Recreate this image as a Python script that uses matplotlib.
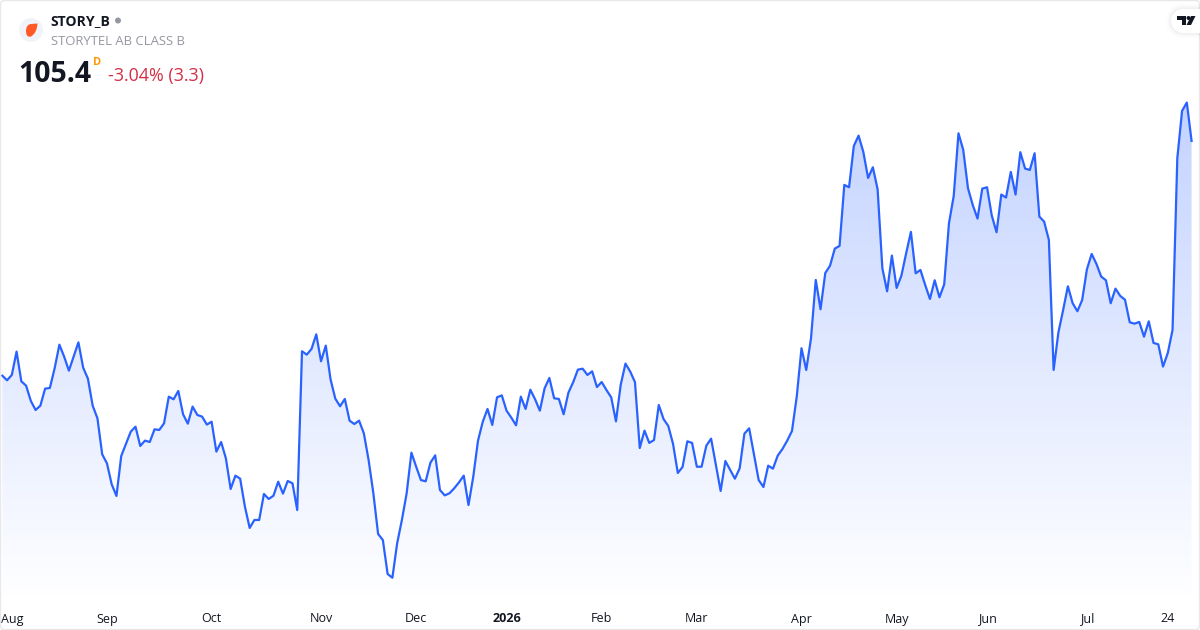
import numpy as np
import matplotlib
matplotlib.use("Agg")
import matplotlib.pyplot as plt
from matplotlib.colors import LinearSegmentedColormap
from matplotlib.patches import Circle, FancyBboxPatch, Polygon, PathPatch
from matplotlib.path import Path

plt.rcParams['font.family'] = ['Open Sans', 'DejaVu Sans']

# daily closes
closes = [
    85.17, 84.77, 85.23, 87.24, 84.68, 84.31, 82.99, 82.21, 82.58, 84.05,
    84.11, 85.80, 87.84, 86.81, 85.60, 86.81, 88.04, 85.86, 84.91, 82.58,
    81.49, 78.39, 77.61, 75.80, 74.80, 78.24, 79.28, 80.34, 80.77, 79.11,
    79.57, 79.45, 80.54, 80.49, 81.06, 83.36, 83.13, 83.85, 81.84, 81.03,
    82.50, 81.78, 81.64, 80.95, 81.20, 78.62, 79.45, 78.04, 75.40, 76.55,
    76.29, 73.88, 72.04, 72.73, 72.73, 74.97, 74.54, 74.82, 76.03, 75.00,
    76.09, 75.89, 73.59, 87.27, 86.98, 87.47, 88.73, 86.41, 87.76, 84.85,
    83.19, 82.53, 83.16, 81.29, 81.00, 81.29, 80.20, 77.90, 75.03, 71.52,
    71.00, 68.07, 67.75, 70.71, 72.73, 75.03, 78.53, 77.32, 76.17, 76.06,
    77.67, 78.30, 75.31, 74.85, 75.03, 75.46, 75.97, 76.55, 74.02, 76.46,
    79.57, 81.20, 82.30, 80.92, 83.30, 83.47, 82.15, 81.55, 80.89, 83.36,
    82.30, 83.96, 83.13, 82.15, 84.08, 84.97, 83.22, 83.16, 81.84, 83.70,
    84.60, 85.69, 85.77, 85.23, 85.54, 84.19, 84.62, 83.93, 83.30, 81.23,
    84.39, 86.21, 85.52, 84.60, 78.93, 80.43, 79.37, 79.62, 82.64, 81.43,
    80.83, 79.28, 76.78, 77.30, 79.51, 79.37, 77.32, 77.32, 79.14, 79.74,
    77.47, 75.23, 77.81, 77.04, 76.29, 77.18, 80.17, 80.63, 78.42, 76.17,
    75.57, 77.41, 77.15, 78.27, 78.85, 79.57, 80.40, 83.36, 87.53, 85.66,
    88.39, 93.42, 90.89, 94.02, 94.65, 96.12, 96.35, 101.61, 101.41, 104.97,
    105.86, 104.45, 102.21, 103.13, 101.24, 94.42, 92.44, 95.52, 92.73, 93.79,
    95.72, 97.56, 93.99, 94.28, 92.99, 91.78, 93.39, 91.92, 93.04, 98.30,
    100.66, 106.06, 104.63, 101.32, 99.88, 98.71, 101.29, 101.41, 98.97, 97.53,
    100.78, 100.52, 102.73, 100.78, 104.43, 103.02, 102.90, 104.34, 98.88, 98.45,
    96.87, 85.66, 88.88, 90.83, 92.87, 91.41, 90.72, 91.69, 94.34, 95.66,
    94.80, 93.71, 93.39, 91.41, 92.67, 92.04, 91.72, 89.77, 89.65, 89.80,
    88.53, 89.85, 87.99, 87.87, 85.95, 87.12, 89.11, 103.91, 107.99, 108.71,
    105.40,
]
tick_bars = [2, 22, 44, 67, 87, 106, 126, 146, 168, 188, 207, 228, 245]
tick_labels = ['Aug', 'Sep', 'Oct', 'Nov', 'Dec', '2026', 'Feb', 'Mar', 'Apr', 'May', 'Jun', 'Jul', '24']

LINE = '#2962FF'
TEXT = '#131722'
GREY = '#9598A1'


def tab_shape(grow):
    # half-round tab that runs off the right edge
    r = 12 + grow
    ang = np.linspace(np.pi / 2, 3 * np.pi / 2, 40)
    pts = list(zip(1183 + r * np.cos(ang), 21 + r * np.sin(ang)))
    return Polygon(pts + [(1200, 9 - grow), (1200, 33 + grow)], ec='none')


fig = plt.figure(figsize=(12, 6.3), dpi=100, facecolor='white')
ax = fig.add_axes([0, 25 / 630, 1, 605 / 630])
bars = np.arange(len(closes))
for s in ax.spines.values():
    s.set_visible(False)
ax.set_yticks([])
ax.set_xticks(tick_bars, tick_labels)
ax.tick_params(axis='x', length=0, pad=12.6, labelsize=9, labelcolor=TEXT)
for lab in ax.get_xticklabels():
    lab.set_verticalalignment('baseline')
ax.get_xticklabels()[5].set_fontweight('bold')

# gradient under the line
cmap = LinearSegmentedColormap.from_list('area', [(0.161, 0.384, 1.0, 0.28), (0.161, 0.384, 1.0, 0.0)])
grad = np.linspace(0, 1, 256).reshape(-1, 1)
img = ax.imshow(grad, cmap=cmap, aspect='auto', origin='upper',
                extent=[0, len(closes) - 1, 65.4, max(closes)], zorder=1)
ax.set_xlim(-0.483, 251.77)
ax.set_ylim(65.4, 117.55)
area = ax.fill_between(bars, closes, 65.4, color='none', lw=0)
img.set_clip_path(area.get_paths()[0], transform=ax.transData)
ax.plot(bars, closes, color=LINE, lw=1.6, solid_joinstyle='round', zorder=3)

# overlay in pixel coordinates for the header, logo and frame
ov = fig.add_axes([0, 0, 1, 1], facecolor='none')
ov.axis('off')

ov.add_patch(FancyBboxPatch((0.5, 0.5), 1199, 629, boxstyle='round,pad=0,rounding_size=4',
                            fc='none', ec='#E8E8EA', lw=1))
ov.add_patch(Circle((31, 30), 12, fc='#F0F3FA', ec='none'))
drop = Path([(37.5, 23.5), (37, 33), (31, 36.5), (26, 38), (26, 31), (26, 24.5), (31, 24), (34, 23.7), (37.5, 23.5)],
            [Path.MOVETO] + [Path.CURVE3] * 8)
ov.add_patch(PathPatch(drop, fc='#FF5A26', ec='none'))
ov.add_patch(Circle((118, 20.5), 3, fc=GREY, ec='none'))

ov.text(50.5, 25.5, 'STORY_B', fontsize=10.1, fontweight='bold', color=TEXT, va='baseline')
ov.text(51, 45, 'STORYTEL AB CLASS B', fontsize=9.45, color=GREY, va='baseline')
ov.text(18.5, 82, '105.4', fontsize=20.4, fontweight='bold', color=TEXT, va='baseline')
ov.text(93, 65, 'D', fontsize=7.9, fontweight='bold', color='#FF9800', va='baseline')
ov.text(108, 81, '-3.04% (3.3)', fontsize=12.9, color='#D32F45', va='baseline')

# TradingView tab
for grow, a in [(5, 0.012), (3, 0.018), (1.5, 0.025)]:
    shadow = tab_shape(grow)
    shadow.set(fc='black', alpha=a)
    ov.add_patch(shadow)
tab = tab_shape(0)
tab.set(fc='white')
ov.add_patch(tab)
ov.add_patch(Polygon([(1177, 16), (1186, 16), (1186, 25), (1181.5, 25), (1181.5, 20), (1177, 20)], fc=TEXT, ec='none'))
ov.add_patch(Circle((1188.5, 18), 2, fc=TEXT, ec='none'))
ov.add_patch(Polygon([(1191, 16), (1195.5, 16), (1191, 25), (1186.5, 25)], fc=TEXT, ec='none'))
ov.set_xlim(0, 1200)
ov.set_ylim(630, 0)

fig.savefig('out.png', dpi=100)
